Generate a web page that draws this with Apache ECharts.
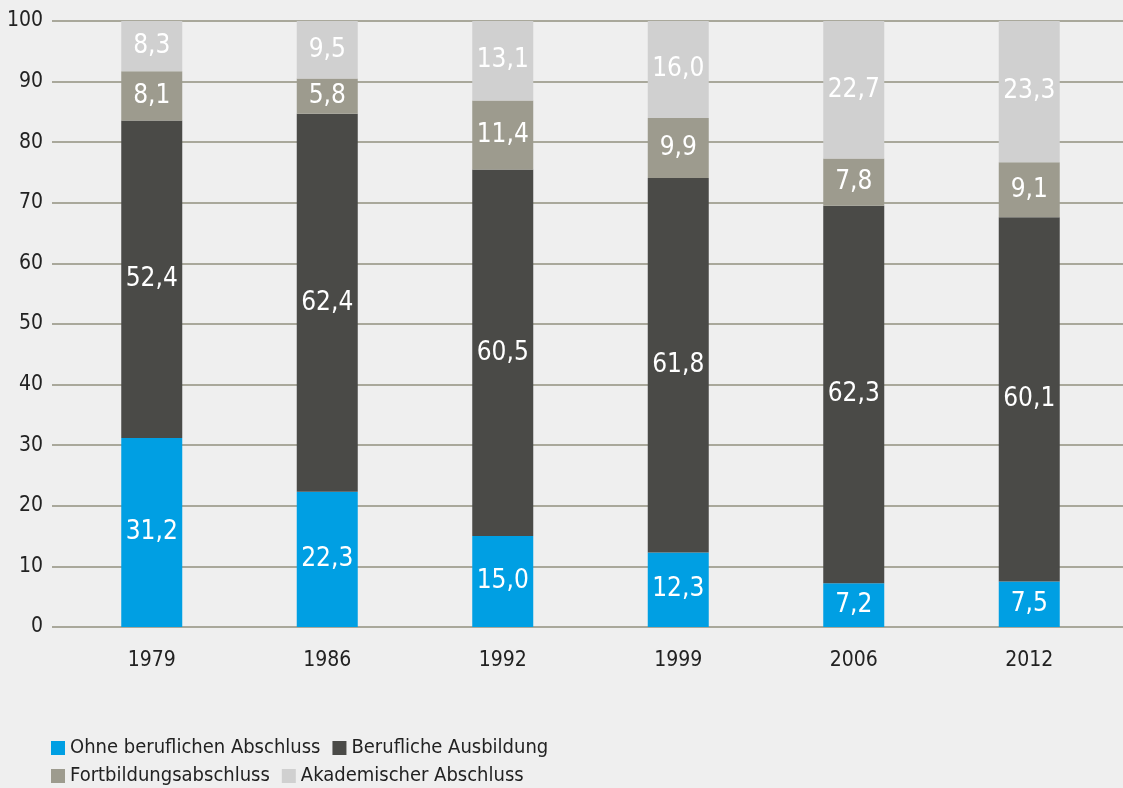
<!DOCTYPE html>
<html>
<head>
<meta charset="utf-8">
<script src="https://cdn.jsdelivr.net/npm/echarts@6/dist/echarts.min.js"></script>
<style>
  html, body { margin: 0; padding: 0; background: #efefef; }
  #chart { width: 1123px; height: 788px; }
</style>
</head>
<body>
<div id="chart"></div>
<script>
const years = ['1979', '1986', '1992', '1999', '2006', '2012'];
const ohne = [31.2, 22.3, 15.0, 12.3, 7.2, 7.5];
const beruf = [52.4, 62.4, 60.5, 61.8, 62.3, 60.1];
const fortb = [8.1, 5.8, 11.4, 9.9, 7.8, 9.1];
const akad = [8.3, 9.5, 13.1, 16.0, 22.7, 23.3];
const yTicks = [0, 10, 20, 30, 40, 50, 60, 70, 80, 90, 100];

const font = '"Liberation Sans Narrow", "DejaVu Sans Condensed", "Noto Sans", sans-serif';

let chart = echarts.init(document.getElementById('chart'));

function mkSeries(name, data, color) {
  return {
    name: name,
    type: 'bar',
    stack: 'total',
    xAxisIndex: 1,
    yAxisIndex: 1,
    barWidth: 61,
    data: data,
    itemStyle: { color: color },
    label: {
      show: true,
      position: 'inside',
      color: '#ffffff',
      fontFamily: font,
      fontSize: 26,
      formatter: p => p.value.toFixed(1).replace('.', ',')
    }
  };
}

let option = {
  backgroundColor: '#efefef',
  animation: false,
  grid: [
    { left: 52, right: 0, top: 21, bottom: 161 },   // nur Gitterlinien
    { left: 64, right: 6, top: 21, bottom: 161 }    // Balken
  ],
  legend: [
    {
      data: ['Ohne beruflichen Abschluss', 'Berufliche Ausbildung'],
      left: 51, top: 738, padding: 0,
      itemWidth: 14, itemHeight: 14, itemGap: 12,
      icon: 'rect',
      textStyle: { fontFamily: font, fontSize: 20, color: '#222' }
    },
    {
      data: ['Fortbildungsabschluss', 'Akademischer Abschluss'],
      left: 51, top: 766, padding: 0,
      itemWidth: 14, itemHeight: 14, itemGap: 12,
      icon: 'rect',
      textStyle: { fontFamily: font, fontSize: 20, color: '#222' }
    }
  ],
  xAxis: [
    { type: 'value', gridIndex: 0, show: false, min: 0, max: 1 },
    {
      type: 'category', gridIndex: 1, data: years,
      axisLine: { show: false }, axisTick: { show: false },
      axisLabel: { margin: 23, fontFamily: font, fontSize: 21, color: '#222' }
    }
  ],
  yAxis: [
    {
      type: 'value', gridIndex: 0, min: 0, max: 100, interval: 10,
      axisLine: { show: false }, axisTick: { show: false },
      axisLabel: {
        margin: 9, fontFamily: font, fontSize: 21, color: '#222',
        formatter: v => yTicks.includes(v) ? String(v) : ''
      },
      splitLine: { lineStyle: { color: '#a9a89b', width: 2 } }
    },
    {
      type: 'value', gridIndex: 1, min: 0, max: 100, interval: 10,
      show: false, splitLine: { show: false }
    }
  ],
  series: [
    mkSeries('Ohne beruflichen Abschluss', ohne, '#009fe3'),
    mkSeries('Berufliche Ausbildung', beruf, '#4a4a47'),
    mkSeries('Fortbildungsabschluss', fortb, '#9d9b8e'),
    mkSeries('Akademischer Abschluss', akad, '#d0d0d0')
  ]
};
chart.setOption(option);
</script>
</body>
</html>
